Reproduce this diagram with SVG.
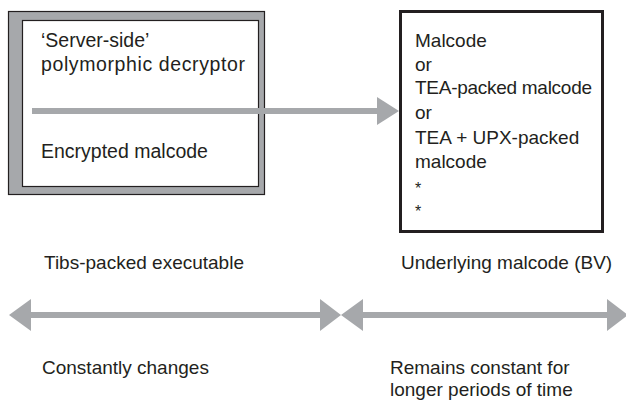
<svg xmlns="http://www.w3.org/2000/svg" width="626" height="401" viewBox="0 0 626 401">
<style>
text{font-family:"Liberation Sans",Arial,sans-serif;font-size:19px;fill:#231f20}
.big{font-size:19.5px}
.ln{stroke:#a6a8ab;stroke-width:6;fill:none}
.hd{fill:#a6a8ab}
</style>
<rect width="626" height="401" fill="#fff"/>
<g id="tibs-box">
<rect x="8.5" y="11.5" width="256" height="183" fill="#a6a8ab" stroke="#231f20" stroke-width="1.2"/>
<rect x="22.5" y="20.5" width="236" height="166" fill="#fff" stroke="#231f20" stroke-width="1.2"/>
<text class="big" x="41" y="47">‘Server-side’</text>
<text class="big" x="41" y="71" textLength="204" lengthAdjust="spacing">polymorphic decryptor</text>
<text class="big" x="41" y="158">Encrypted malcode</text>
</g>
<g id="malcode-box">
<rect x="400.5" y="11.5" width="202" height="220" fill="#fff" stroke="#231f20" stroke-width="3"/>
<text x="415" y="47">Malcode</text>
<text x="415" y="70.5">or</text>
<text x="415" y="94" textLength="177" lengthAdjust="spacing">TEA-packed malcode</text>
<text x="415" y="119">or</text>
<text x="415" y="144">TEA + UPX-packed</text>
<text x="415" y="168">malcode</text>
<text x="415" y="194" style="font-size:16px">*</text>
<text x="415" y="217" style="font-size:16px">*</text>
</g>
<g id="labels">
<text x="44" y="269">Tibs-packed executable</text>
<text x="401" y="269">Underlying malcode (BV)</text>
<text x="42" y="374">Constantly changes</text>
<text x="390" y="374">Remains constant for</text>
<text x="390" y="396">longer periods of time</text>
</g>
<g id="connectors">
<line class="ln" x1="32" y1="111" x2="378" y2="111"/>
<polygon class="hd" points="377,97 399,111 377,125"/>
<line class="ln" x1="30" y1="315" x2="321" y2="315"/>
<polygon class="hd" points="31,299 9,315 31,331"/>
<polygon class="hd" points="320,299 341,315 320,331"/>
<line class="ln" x1="362" y1="315" x2="608" y2="315"/>
<polygon class="hd" points="363,299 341,315 363,331"/>
<polygon class="hd" points="607,299 628,315 607,331"/>
</g>
</svg>
